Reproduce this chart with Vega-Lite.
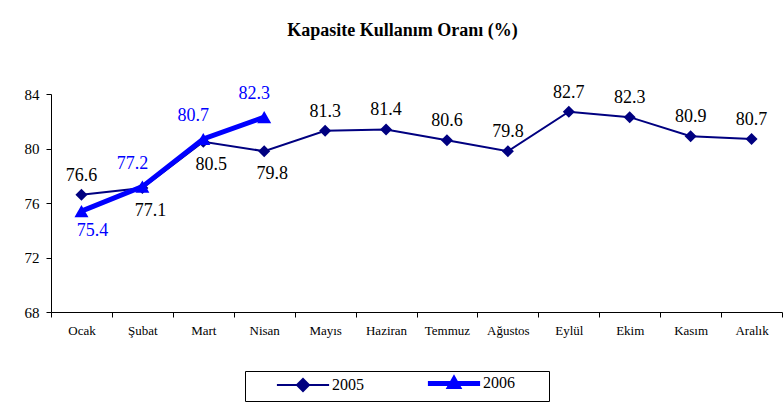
{
  "$schema": "https://vega.github.io/schema/vega-lite/v6.json",
  "width": 731,
  "height": 218,
  "autosize": "none",
  "padding": {"left": 51, "top": 94, "right": 2, "bottom": 102},
  "background": "white",
  "title": {"text": "Kapasite Kullanım Oranı (%)", "font": "'Liberation Serif', 'Times New Roman', serif", "fontSize": 18, "fontWeight": "bold", "color": "black", "anchor": "middle", "dx": -14, "offset": 44},
  "config": {
    "font": "'Liberation Serif', 'Times New Roman', serif",
    "view": {"stroke": null},
    "text": {"font": "'Liberation Serif', 'Times New Roman', serif"},
    "axis": {"domainColor": "black", "tickColor": "black", "labelColor": "black", "grid": false, "title": null, "labelFont": "'Liberation Serif', 'Times New Roman', serif"},
    "legend": {"labelFont": "'Liberation Serif', 'Times New Roman', serif"}
  },
  "data": {"values": [
    {"month": "Ocak", "year": "2005", "value": 76.6},
    {"month": "Şubat", "year": "2005", "value": 77.1},
    {"month": "Mart", "year": "2005", "value": 80.5},
    {"month": "Nisan", "year": "2005", "value": 79.8},
    {"month": "Mayıs", "year": "2005", "value": 81.3},
    {"month": "Haziran", "year": "2005", "value": 81.4},
    {"month": "Temmuz", "year": "2005", "value": 80.6},
    {"month": "Ağustos", "year": "2005", "value": 79.8},
    {"month": "Eylül", "year": "2005", "value": 82.7},
    {"month": "Ekim", "year": "2005", "value": 82.3},
    {"month": "Kasım", "year": "2005", "value": 80.9},
    {"month": "Aralık", "year": "2005", "value": 80.7},
    {"month": "Ocak", "year": "2006", "value": 75.4},
    {"month": "Şubat", "year": "2006", "value": 77.2},
    {"month": "Mart", "year": "2006", "value": 80.7},
    {"month": "Nisan", "year": "2006", "value": 82.3}
  ]},
  "encoding": {
    "x": {"field": "month", "type": "nominal", "sort": ["Ocak", "Şubat", "Mart", "Nisan", "Mayıs", "Haziran", "Temmuz", "Ağustos", "Eylül", "Ekim", "Kasım", "Aralık"],
      "scale": {"paddingInner": 0, "paddingOuter": 0},
      "axis": {"tickBand": "extent", "labelAngle": 0, "labelFontSize": 13, "tickSize": 5, "labelPadding": 7}},
    "y": {"field": "value", "type": "quantitative", "scale": {"domain": [68, 84], "nice": false, "zero": false},
      "axis": {"values": [68, 72, 76, 80, 84], "labelFontSize": 15, "tickSize": 5, "labelPadding": 7}}
  },
  "layer": [
    {
      "transform": [{"filter": "datum.year == '2005'"}],
      "mark": {"type": "line", "strokeWidth": 2},
      "encoding": {"color": {"field": "year", "type": "nominal", "scale": {"domain": ["2005", "2006"], "range": ["#000080", "#0000FF"]},
        "legend": {"orient": "none", "legendX": 194, "legendY": 277, "direction": "horizontal", "title": null, "strokeColor": "black", "padding": 4,
          "labelFontSize": 16, "labelColor": "black", "symbolSize": 324, "symbolOffset": 46, "labelOffset": 21, "columnPadding": 36,
          "encode": {"symbols": {"update": {
            "shape": {"signal": "datum.label == '2006' ? 'M-2.9,0L2.9,0M-0.45,0.35L0,-0.45L0.45,0.35ZM8.9,0' : 'M-2.9,0L2.9,0M-0.67,0L0,-0.67L0.67,0L0,0.67Z'"},
            "strokeWidth": {"signal": "datum.label == '2006' ? 5 : 2"},
            "stroke": {"signal": "datum.label == '2006' ? '#0000FF' : '#000080'"},
            "fill": {"signal": "datum.label == '2006' ? '#0000FF' : '#000080'"},
            "opacity": {"value": 1}
          }}}}}}
    },
    {
      "transform": [{"filter": "datum.year == '2005'"}],
      "mark": {"type": "point", "shape": "diamond", "filled": true, "size": 144, "opacity": 1},
      "encoding": {"color": {"field": "year", "type": "nominal"}}
    },
    {
      "transform": [{"filter": "datum.year == '2006'"}],
      "mark": {"type": "line", "strokeWidth": 5},
      "encoding": {"color": {"field": "year", "type": "nominal"}}
    },
    {
      "transform": [{"filter": "datum.year == '2006'"}],
      "mark": {"type": "point", "shape": "triangle-up", "filled": true, "size": 196, "opacity": 1},
      "encoding": {"color": {"field": "year", "type": "nominal"}}
    },
    {
      "transform": [{"filter": "datum.year == '2005' && indexof(['Şubat','Mart','Nisan'], datum.month) < 0"}],
      "mark": {"type": "text", "fontSize": 18, "baseline": "middle", "dy": -19, "color": "black"},
      "encoding": {"text": {"field": "value", "type": "quantitative", "format": ".1f"}}
    },
    {
      "transform": [{"filter": "datum.year == '2005' && indexof(['Şubat','Mart','Nisan'], datum.month) >= 0"}],
      "mark": {"type": "text", "fontSize": 18, "baseline": "middle", "dy": 23, "dx": 8, "color": "black"},
      "encoding": {"text": {"field": "value", "type": "quantitative", "format": ".1f"}}
    },
    {
      "transform": [{"filter": "datum.year == '2006' && datum.month != 'Ocak'"}],
      "mark": {"type": "text", "fontSize": 18, "baseline": "middle", "dy": -23, "dx": -10, "color": "#0000FF"},
      "encoding": {"text": {"field": "value", "type": "quantitative", "format": ".1f"}}
    },
    {
      "transform": [{"filter": "datum.year == '2006' && datum.month == 'Ocak'"}],
      "mark": {"type": "text", "fontSize": 18, "baseline": "middle", "dy": 20, "dx": 11, "color": "#0000FF"},
      "encoding": {"text": {"field": "value", "type": "quantitative", "format": ".1f"}}
    }
  ]
}
